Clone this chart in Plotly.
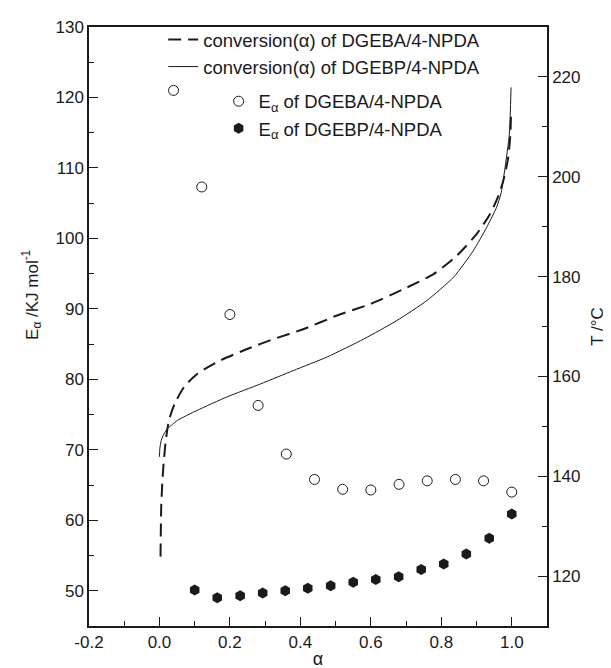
import plotly.graph_objects as go

# conversion curves (alpha vs temperature, right axis)
dgeba_conv_alpha = [0.003, 0.005, 0.008, 0.011, 0.018, 0.027, 0.043, 0.070, 0.107, 0.173,
                    0.249, 0.325, 0.410, 0.504, 0.598, 0.693, 0.778, 0.844, 0.900, 0.938,
                    0.960, 0.976, 0.990, 0.996, 0.998]
dgeba_conv_T = [123.9, 133.9, 138.5, 141.9, 147.2, 151.2, 154.5, 157.9, 160.5, 163.2,
                165.5, 167.5, 169.5, 172.2, 174.5, 177.5, 180.5, 184.2, 188.5, 192.5,
                195.8, 199.2, 203.9, 208.5, 213.0]

dgebp_conv_alpha = [0.000, 0.001, 0.005, 0.013, 0.022, 0.037, 0.051, 0.107, 0.192, 0.287,
                    0.381, 0.476, 0.580, 0.674, 0.759, 0.835, 0.891, 0.929, 0.957, 0.970,
                    0.981, 0.993, 0.998]
dgebp_conv_T = [143.9, 145.5, 147.2, 148.5, 149.5, 150.4, 151.2, 153.2, 155.9, 158.5,
                161.2, 163.9, 167.5, 171.2, 175.2, 179.9, 185.2, 189.9, 193.9, 196.8,
                201.9, 208.5, 217.9]

# activation energies (left axis)
dgeba_ea_alpha = [0.04, 0.12, 0.20, 0.28, 0.36, 0.44, 0.52, 0.60, 0.68, 0.76, 0.84, 0.92, 1.00]
dgeba_ea = [121.0, 107.3, 89.2, 76.3, 69.4, 65.8, 64.4, 64.3, 65.1, 65.6, 65.8, 65.6, 64.0]

dgebp_ea_alpha = [0.100, 0.164, 0.229, 0.293, 0.357, 0.421, 0.486, 0.550, 0.614, 0.679,
                  0.743, 0.807, 0.871, 0.936, 1.000]
dgebp_ea = [50.1, 49.0, 49.3, 49.7, 50.0, 50.35, 50.7, 51.2, 51.6, 52.0,
            53.0, 53.8, 55.2, 57.45, 60.9]

# x tick labels use a plain hyphen like the original
x_tickvals = [-0.2, 0.0, 0.2, 0.4, 0.6, 0.8, 1.0]
x_ticktext = ["-0.2", "0.0", "0.2", "0.4", "0.6", "0.8", "1.0"]

FONT = "Arial, Liberation Sans, sans-serif"
INK = "#1a1a1a"

fig = go.Figure()

fig.add_trace(go.Scatter(
    x=dgeba_conv_alpha, y=dgeba_conv_T, yaxis="y2", mode="lines",
    line=dict(color=INK, width=2, dash="13px,7px", shape="spline", smoothing=0.6),
    name="conversion(α) of DGEBA/4-NPDA", legend="legend", legendgroup="a"))
fig.add_trace(go.Scatter(
    x=dgebp_conv_alpha, y=dgebp_conv_T, yaxis="y2", mode="lines",
    line=dict(color=INK, width=1, shape="spline", smoothing=0.6),
    name="conversion(α) of DGEBP/4-NPDA", legend="legend", legendgroup="b"))
fig.add_trace(go.Scatter(
    x=dgeba_ea_alpha, y=dgeba_ea, mode="markers",
    marker=dict(symbol="circle-open", size=10, color=INK, line=dict(width=1)),
    name="E<sub>α</sub> of DGEBA/4-NPDA", legend="legend2", legendgroup="c"))
fig.add_trace(go.Scatter(
    x=dgebp_ea_alpha, y=dgebp_ea, mode="markers",
    marker=dict(symbol="hexagon", size=11, color=INK, line=dict(width=0)),
    name="E<sub>α</sub> of DGEBP/4-NPDA", legend="legend2", legendgroup="d"))

axis_common = dict(
    showline=True, linecolor=INK, linewidth=1.5, showgrid=False, zeroline=False,
    ticks="inside", ticklen=9, tickwidth=1, tickcolor=INK,
    tickfont=dict(family=FONT, size=17, color=INK),
)

fig.update_layout(
    width=611, height=668,
    margin=dict(l=81, r=72, t=19, b=50),
    paper_bgcolor="white", plot_bgcolor="white",
    font=dict(family=FONT, size=17, color=INK),
    showlegend=True,
    xaxis=dict(range=[-0.2, 1.1], tickvals=x_tickvals, ticktext=x_ticktext,
               mirror=True, automargin=False,
               minor=dict(dtick=0.1, ticks="inside", ticklen=5, tickcolor=INK),
               title=dict(text="α", font=dict(family=FONT, size=18), standoff=1),
               **axis_common),
    yaxis=dict(range=[45, 130], dtick=10, tick0=0, automargin=False,
               minor=dict(dtick=5, ticks="inside", ticklen=5, tickcolor=INK),
               **axis_common),
    yaxis2=dict(range=[110, 230], dtick=20, tick0=0, overlaying="y", side="right",
                automargin=False,
                minor=dict(dtick=10, ticks="inside", ticklen=5, tickcolor=INK),
                title=dict(text="T /°C", font=dict(family=FONT, size=17), standoff=12),
                **axis_common),
    legend=dict(x=0.162, y=1.01, xanchor="left", yanchor="top",
                bgcolor="rgba(0,0,0,0)", tracegroupgap=0,
                font=dict(family=FONT, size=18.5, color=INK)),
    legend2=dict(x=0.283, y=0.907, xanchor="left", yanchor="top",
                 bgcolor="rgba(0,0,0,0)", tracegroupgap=0,
                 font=dict(family=FONT, size=18.5, color=INK)),
    annotations=[dict(
        text="E<sub>α</sub> /KJ mol<sup>-1</sup>", textangle=-90,
        xref="paper", yref="paper", x=-0.124, y=0.553,
        xanchor="center", yanchor="middle", showarrow=False,
        font=dict(family=FONT, size=17, color=INK))],
)

fig.write_html("out.html")
